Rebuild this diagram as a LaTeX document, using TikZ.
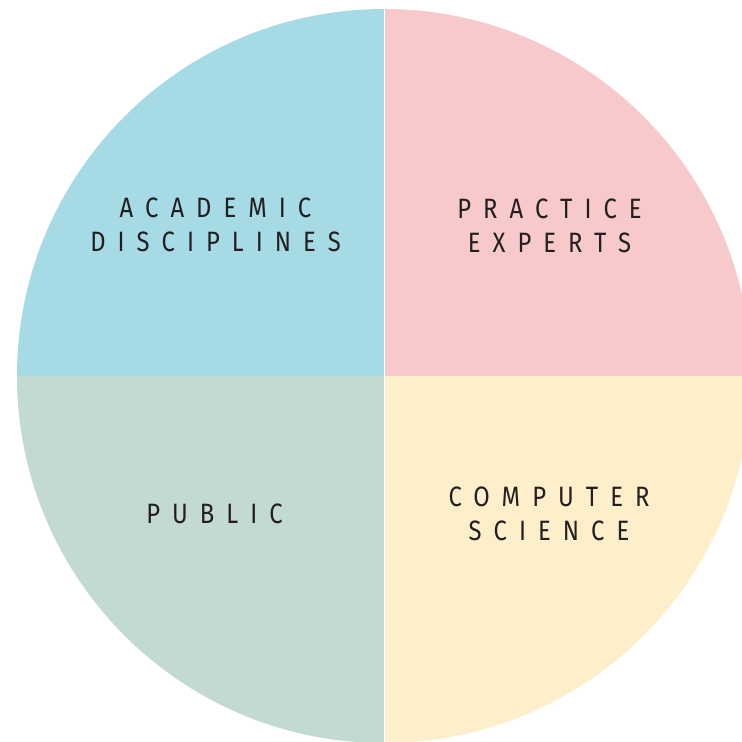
\documentclass[tikz,border=0pt]{standalone}
\usepackage{fontspec}
\setmainfont{Fira Sans}[LetterSpace=43,FakeStretch=0.85]
\definecolor{qblue}{HTML}{A6DBE5}
\definecolor{qpink}{HTML}{F8C9CB}
\definecolor{qgreen}{HTML}{C2DAD0}
\definecolor{qyellow}{HTML}{FDEFC9}
\definecolor{ink}{HTML}{231F20}
\tikzset{
  lbl/.style={text=ink, align=center, inner sep=0pt, font=\fontsize{28}{34}\selectfont},
  sep/.style={draw=white, line width=0.8pt}
}
\begin{document}
\begin{tikzpicture}[x=1pt,y=-1pt]
\useasboundingbox (0,0) rectangle (742,742);
\fill[white] (0,0) rectangle (742,742);
\begin{scope}
  \clip (384,376) circle[radius=367pt];
  \fill[qblue] (0,0) rectangle (384,376);
  \fill[qpink] (384,0) rectangle (760,376);
  \fill[qgreen] (0,376) rectangle (384,760);
  \fill[qyellow] (384,376) rectangle (760,760);
  \draw[sep] (384,0) -- (384,760);
\end{scope}
\node[lbl] (ad) at (215.5,225) {ACADEMIC\\DISCIPLINES};
\node[lbl] (pe) at (549.5,226) {PRACTICE\\EXPERTS};
\node[lbl] (pu) at (214.5,514) {PUBLIC};
\node[lbl] (cs) at (549,513.5) {COMPUTER\\SCIENCE};
\end{tikzpicture}
\end{document}
